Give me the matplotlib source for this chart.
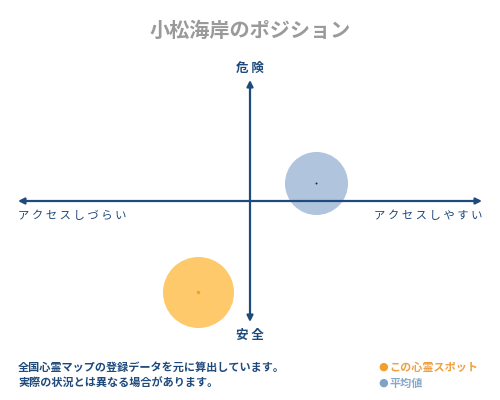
import matplotlib
matplotlib.use("Agg")
import matplotlib.pyplot as plt

plt.rcParams['font.family'] = ['Noto Sans CJK JP', 'DejaVu Sans']

title = "小松海岸のポジション"
top_label = "危険"
bottom_label = "安全"
left_label = "アクセスしづらい"
right_label = "アクセスしやすい"
note_lines = ["全国心霊マップの登録データを元に算出しています。",
              "実際の状況とは異なる場合があります。"]
legend_labels = ["この心霊スポット", "平均値"]

# positions on the access (x) / danger (y) plane, -1..1
spot_x = [-0.224]
spot_y = [-0.752]
avg_x = [0.284]
avg_y = [0.149]

navy = "#1f4a7c"
orange_fill = "#fdc96b"
orange_dot = "#f3a02a"
blue_fill = "#b0c4de"

fig = plt.figure(figsize=(5, 4), dpi=100)
ax = fig.add_axes([18 / 500, 78 / 400, 464 / 500, 242 / 400])
ax.set_xlim(-1, 1)
ax.set_ylim(-1, 1)
ax.axis("off")

# bubbles
ax.scatter(avg_x, avg_y, s=2060, color=blue_fill, linewidths=0, zorder=2, clip_on=False)
ax.scatter(avg_x, avg_y, s=2, color="#1a2a40", linewidths=0, zorder=4, clip_on=False)
ax.scatter(spot_x, spot_y, s=2613, color=orange_fill, linewidths=0, zorder=2, clip_on=False)
ax.scatter(spot_x, spot_y, s=6, color=orange_dot, linewidths=0, zorder=4, clip_on=False)

# cross axes with arrows
arrow = dict(arrowstyle="<|-|>", color=navy, lw=1.6, mutation_scale=9,
             shrinkA=0, shrinkB=0)
ax.annotate("", xy=(-1, 0), xytext=(1, 0), arrowprops=arrow, zorder=3)
ax.annotate("", xy=(0, 1), xytext=(0, -1), arrowprops=arrow, zorder=3)

# labels
fig.text(0.5, 1 - 30 / 400, title, ha="center", va="center", fontsize=14.5,
         color="#9a9a9a", fontweight="bold")
fig.text(0.5, 1 - 68 / 400, " ".join(top_label), ha="center", va="center",
         fontsize=9, color=navy, fontweight="bold")
fig.text(0.5, 1 - 335 / 400, " ".join(bottom_label), ha="center", va="center",
         fontsize=9, color=navy, fontweight="bold")
fig.text(18 / 500, 1 - 216 / 400, " ".join(left_label), ha="left", va="center",
         fontsize=8.2, color=navy)
fig.text(482 / 500, 1 - 216 / 400, " ".join(right_label), ha="right", va="center",
         fontsize=8.2, color=navy)

for i, line in enumerate(note_lines):
    fig.text(18 / 500, 1 - (367 + 16 * i) / 400, line, ha="left", va="center",
             fontsize=8, color=navy, fontweight="bold")

legend_colors = [orange_dot, "#7ea3c6"]
legend_text_colors = ["#f0a040", "#8aa8c8"]
for i, (lab, c, tc) in enumerate(zip(legend_labels, legend_colors, legend_text_colors)):
    y = 1 - (367 + 16 * i) / 400
    fig.text(383 / 500, y, "●", ha="center", va="center", fontsize=8, color=c,
             family="DejaVu Sans")
    fig.text(389 / 500, y, lab, ha="left", va="center", fontsize=8, color=tc,
             fontweight="bold")

fig.savefig("out.png", dpi=100)
